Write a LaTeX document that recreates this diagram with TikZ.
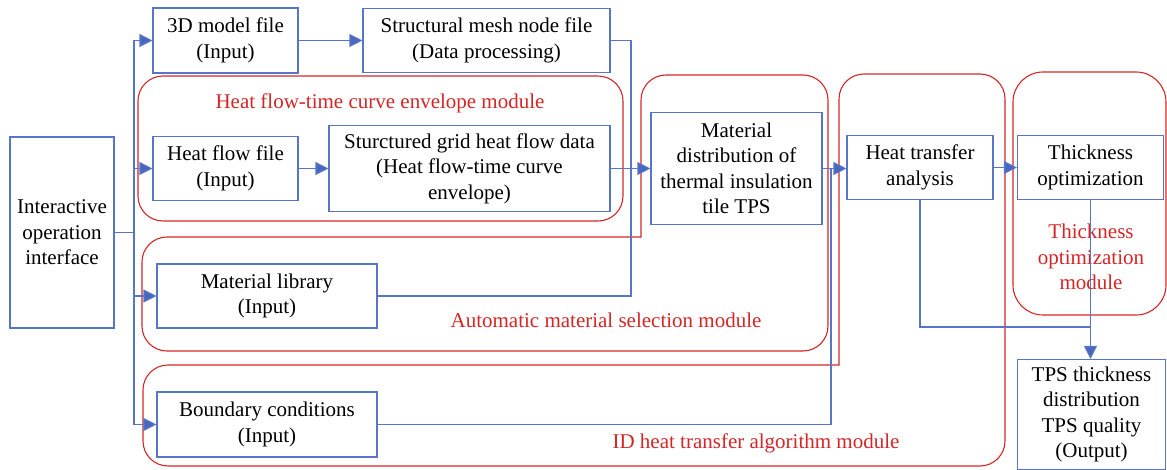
\documentclass[tikz,border=0pt]{standalone}
\usepackage{fontspec}
\setmainfont{Liberation Serif}
\usetikzlibrary{arrows.meta}
\definecolor{lblue}{RGB}{88,118,200}
\definecolor{ablue}{RGB}{72,104,192}
\definecolor{mred}{RGB}{212,38,38}
\begin{document}
\begin{tikzpicture}[x=1pt,y=-1pt,
  box/.style={draw=lblue, line width=1.1pt, inner sep=0pt, align=center,
    font=\fontsize{21}{25.5}\selectfont, text=black},
  conn/.style={draw=lblue, line width=1.1pt},
  arr/.style={conn, -{Triangle[length=13pt,width=13pt,fill=ablue]}},
  redline/.style={draw=mred, line width=1.1pt, line cap=rect},
  redlab/.style={text=mred, align=center, font=\fontsize{21}{25.5}\selectfont, inner sep=0pt}]
\useasboundingbox (0,0) rectangle (1167,470);

% red module outlines
\draw[redline, rounded corners=25pt] (138,76) rectangle (623,221);
\draw[redline, rounded corners=25pt] (641,237) -- (641,75) -- (828,75) -- (828,351) -- (142,351) -- (142,237) -- (641,237);
\draw[redline, rounded corners=25pt] (839,365) -- (839,74) -- (1005,74) -- (1005,466) -- (143,466) -- (143,365) -- (839,365);
\draw[redline, rounded corners=30pt] (1013,72) rectangle (1166,315);

\node[redlab] (lenv) at (380,103) {Heat flow-time curve envelope module};
\node[redlab] (lams) at (606,320) {Automatic material selection module};
\node[redlab] (lid) at (756,443) {ID heat transfer algorithm module};
\node[redlab] (lto) at (1091,257) {Thickness\\optimization\\module};

% boxes
\node[box, minimum width=104pt, minimum height=191pt] (ii) at (62,232.5) {Interactive\\operation\\interface};
\node[box, minimum width=145pt, minimum height=65pt] (model) at (225.5,40.5) {3D model file\\(Input)};
\node[box, minimum width=247pt, minimum height=64pt] (mesh) at (486.5,40.5) {Structural mesh node file\\(Data processing)};
\node[box, minimum width=145pt, minimum height=64pt] (hf) at (225.5,168.5) {Heat flow file\\(Input)};
\node[box, minimum width=281pt, minimum height=86pt] (grid) at (469.5,168.5) {Sturctured grid heat flow data\\(Heat flow-time curve\\envelope)};
\node[box, minimum width=171pt, minimum height=112pt] (mat) at (736.5,168.5) {Material\\distribution of\\thermal insulation\\tile TPS};
\node[box, minimum width=146pt, minimum height=64pt] (hta) at (920,167.5) {Heat transfer\\analysis};
\node[box, minimum width=146pt, minimum height=64pt] (to) at (1090.5,167.5) {Thickness\\optimization};
\node[box, minimum width=220pt, minimum height=64pt] (lib) at (267,296) {Material library\\(Input)};
\node[box, minimum width=220pt, minimum height=65pt] (bc) at (267,424.5) {Boundary conditions\\(Input)};
\node[box, minimum width=148pt, minimum height=110pt] (out) at (1091.5,414.5) {TPS thickness\\distribution\\TPS quality\\(Output)};

% connectors
\coordinate (tk) at (134,0);
\coordinate (j1) at (631,0);
\coordinate (j2) at (831,0);
\coordinate (j3) at (0,327);
\draw[conn] (ii.east) -- (ii.east -| tk);
\draw[conn] (tk |- model.west) -- (tk |- bc.west);
\draw[arr] (tk |- model.west) -- (model.west);
\draw[arr] (tk |- hf.west) -- (hf.west);
\draw[arr] (tk |- lib.west) -- (lib.west);
\draw[arr] (tk |- bc.west) -- (bc.west);
\draw[arr] (model.east) -- (mesh.west);
\draw[arr] (hf.east) -- (hf.east -| grid.west);
\draw[conn] (mesh.east) -| (j1 |- lib.east) -- (lib.east);
\draw[arr] (grid.east) -- (mat.west);
\draw[conn] (bc.east) -| (j2 |- mat.east);
\draw[arr] (mat.east) -- (mat.east -| hta.west);
\draw[arr] (hta.east) -- (to.west);
\draw[conn] (hta.south) |- (to.south |- j3);
\draw[arr] (to.south) -- (to.south |- out.north);
\end{tikzpicture}
\end{document}
